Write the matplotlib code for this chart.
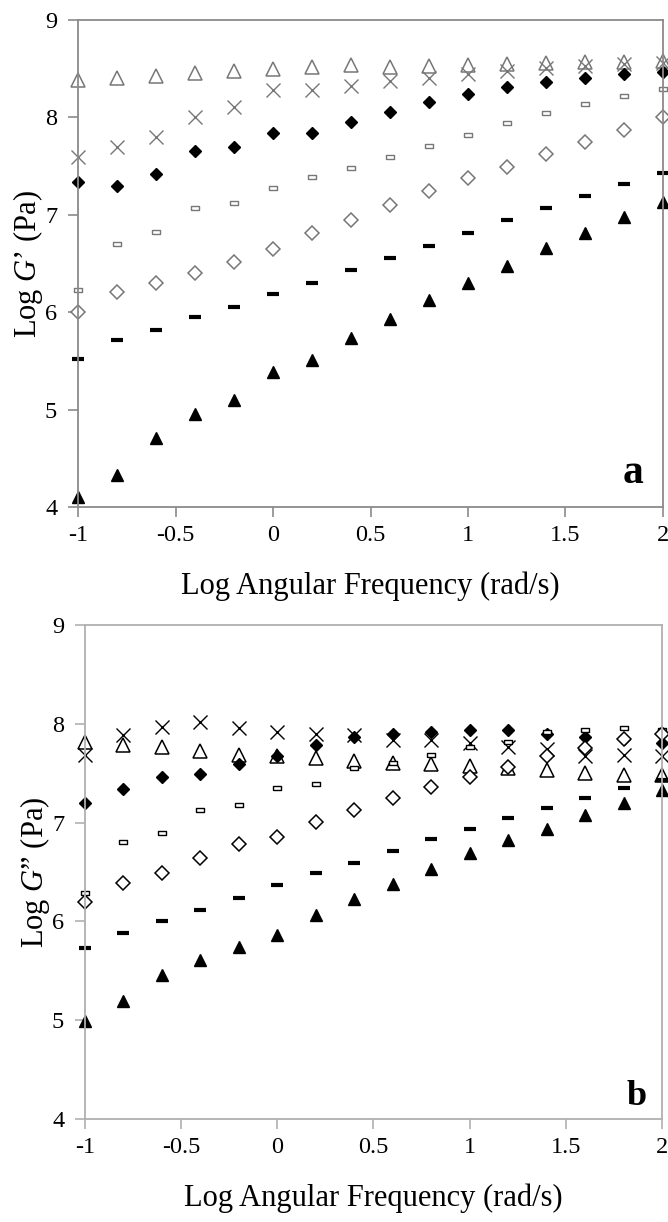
import numpy as np
import matplotlib
matplotlib.use("Agg")
import matplotlib.pyplot as plt

plt.rcParams["font.family"] = ["Liberation Serif", "DejaVu Serif"]
plt.rcParams["mathtext.fontset"] = "custom"
plt.rcParams["mathtext.rm"] = "Liberation Serif"
plt.rcParams["mathtext.it"] = "Liberation Serif:italic"
plt.rcParams["axes.unicode_minus"] = False

# log angular frequency (rad/s)
freq = [-1.0, -0.8, -0.6, -0.4, -0.2, 0.0, 0.2, 0.4, 0.6, 0.8, 1.0, 1.2, 1.4, 1.6, 1.8, 2.0]

# panel a: log G'
g1_open_tri = [8.38, 8.41, 8.43, 8.46, 8.48, 8.50, 8.52, 8.54, 8.52, 8.53, 8.54, 8.55, 8.56, 8.57, 8.57, 8.58]
g1_cross = [7.59, 7.70, 7.80, 8.00, 8.11, 8.28, 8.28, 8.32, 8.37, 8.41, 8.45, 8.48, 8.51, 8.53, 8.55, 8.56]
g1_fill_dia = [7.34, 7.30, 7.42, 7.66, 7.70, 7.84, 7.84, 7.95, 8.06, 8.16, 8.24, 8.31, 8.36, 8.41, 8.45, 8.47]
g1_rect = [6.23, 6.70, 6.82, 7.07, 7.12, 7.28, 7.39, 7.48, 7.59, 7.71, 7.82, 7.94, 8.05, 8.14, 8.22, 8.29]
g1_open_dia = [6.00, 6.21, 6.30, 6.40, 6.52, 6.65, 6.81, 6.95, 7.10, 7.24, 7.38, 7.49, 7.62, 7.75, 7.87, 8.00]
g1_dash = [5.52, 5.71, 5.82, 5.95, 6.05, 6.19, 6.30, 6.43, 6.56, 6.68, 6.81, 6.95, 7.07, 7.19, 7.32, 7.43]
g1_fill_tri = [4.10, 4.33, 4.71, 4.95, 5.10, 5.39, 5.51, 5.74, 5.93, 6.13, 6.30, 6.47, 6.66, 6.81, 6.98, 7.13]

# panel b: log G''
g2_open_tri = [7.82, 7.79, 7.77, 7.73, 7.68, 7.67, 7.65, 7.62, 7.60, 7.59, 7.57, 7.55, 7.53, 7.50, 7.48, 7.48]
g2_cross = [7.68, 7.89, 7.97, 8.02, 7.96, 7.92, 7.90, 7.89, 7.84, 7.84, 7.81, 7.77, 7.75, 7.67, 7.68, 7.67]
g2_fill_dia = [7.20, 7.34, 7.46, 7.49, 7.59, 7.67, 7.79, 7.87, 7.90, 7.92, 7.94, 7.94, 7.90, 7.87, 7.85, 7.81]
g2_rect = [6.29, 6.80, 6.90, 7.13, 7.18, 7.35, 7.39, 7.55, 7.60, 7.68, 7.77, 7.82, 7.92, 7.94, 7.96, 7.94]
g2_open_dia = [6.20, 6.39, 6.49, 6.64, 6.78, 6.85, 7.01, 7.13, 7.25, 7.36, 7.46, 7.56, 7.67, 7.76, 7.85, 7.90]
g2_dash = [5.73, 5.88, 6.00, 6.12, 6.24, 6.37, 6.49, 6.59, 6.71, 6.83, 6.94, 7.05, 7.15, 7.25, 7.35, 7.43]
g2_fill_tri = [4.99, 5.19, 5.46, 5.61, 5.74, 5.86, 6.06, 6.23, 6.38, 6.53, 6.69, 6.82, 6.94, 7.08, 7.20, 7.33]

rect_marker = [(-1, -0.45), (1, -0.45), (1, 0.45), (-1, 0.45), (-1, -0.45)]


def draw_panel(ax, series, light, spine_color, ylabel, tag, tag_pos, tag_size):
    tri, cross, fdia, rect, odia, dash, ftri = series
    kw = dict(linestyle="none", clip_on=False)
    ax.plot(freq, tri, marker="^", markersize=9.5, mfc="white", mec=light, mew=1.1, **kw)
    ax.plot(freq, cross, marker="x", markersize=10, mec=light, mew=1.0, **kw)
    ax.plot(freq, fdia, marker="D", markersize=6.5, mfc="black", mec="black", **kw)
    ax.plot(freq, rect, marker=rect_marker, markersize=5.5, mfc="white", mec=light, mew=1.0, **kw)
    ax.plot(freq, odia, marker="D", markersize=7.5, mfc="white", mec=light, mew=1.1, **kw)
    ax.plot(freq, dash, marker="_", markersize=9, mec="black", mew=3, **kw)
    ax.plot(freq, ftri, marker="^", markersize=8.5, mfc="black", mec="black", **kw)

    ax.set_xlim(-1, 2)
    ax.set_ylim(4, 9)
    ax.set_xticks([-1, -0.5, 0, 0.5, 1, 1.5, 2])
    ax.set_xticklabels(["-1", "-0.5", "0", "0.5", "1", "1.5", "2"])
    ax.set_yticks([4, 5, 6, 7, 8, 9])
    for sp in ax.spines.values():
        sp.set_color(spine_color)
        sp.set_linewidth(1.3)
    ax.tick_params(direction="out", length=7, width=1.2, color=spine_color,
                   labelsize=17.5)
    ax.tick_params(axis="y", pad=8)
    ax.tick_params(axis="x", pad=6)
    ax.set_xlabel("Log Angular Frequency (rad/s)", fontsize=22, labelpad=18)
    ax.set_ylabel(ylabel, fontsize=22, labelpad=0)
    ax.text(tag_pos[0], tag_pos[1], tag, transform=ax.transAxes, fontsize=tag_size,
            fontweight="bold", ha="right", va="baseline")


fig = plt.figure(figsize=(6.68, 12.22), dpi=100)
ax1 = fig.add_axes([0.1168, 0.5851, 0.8757, 0.3985])
ax2 = fig.add_axes([0.1272, 0.0843, 0.8638, 0.4042])

draw_panel(ax1, [g1_open_tri, g1_cross, g1_fill_dia, g1_rect, g1_open_dia, g1_dash, g1_fill_tri],
           "#777777", "#8a8a8a", "Log $G$\u2019 (Pa)", "a", (0.966, 0.049), 30)
draw_panel(ax2, [g2_open_tri, g2_cross, g2_fill_dia, g2_rect, g2_open_dia, g2_dash, g2_fill_tri],
           "black", "#b0b0b0", "Log $G$\u201d (Pa)", "b", (0.974, 0.028), 26)

fig.savefig("out.png", dpi=100)
